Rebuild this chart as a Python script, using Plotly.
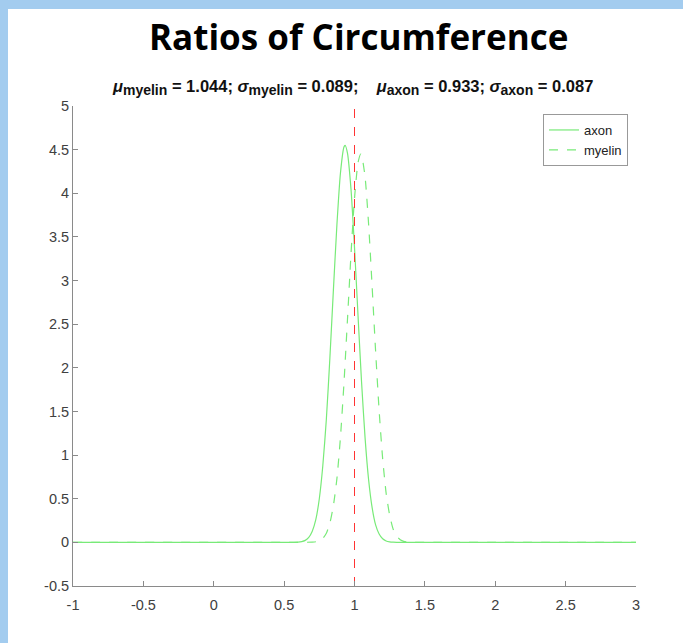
import plotly.graph_objects as go

# ---- data ----
axon_x = [-1, 0.5, 0.6, 0.625, 0.65, 0.675, 0.7, 0.725, 0.75, 0.775, 0.8, 0.825, 0.85, 0.875, 0.9, 0.925, 0.933,
          0.95, 0.975, 1.0, 1.025, 1.05, 1.075, 1.1, 1.125, 1.15, 1.175, 1.2, 1.225, 1.25, 1.275, 1.3, 1.5, 3]
axon_y = [0, 0, 0.003, 0.009, 0.023, 0.056, 0.127, 0.26, 0.50, 0.88, 1.41, 2.11, 2.89, 3.64, 4.23, 4.53, 4.55,
          4.46, 4.05, 3.38, 2.60, 1.84, 1.20, 0.72, 0.40, 0.20, 0.095, 0.041, 0.016, 0.006, 0.002, 0, 0, 0]

myelin_x = [-1, 0.6, 0.7, 0.725, 0.75, 0.775, 0.8, 0.825, 0.85, 0.875, 0.9, 0.925, 0.95, 0.975, 1.0, 1.025, 1.044,
            1.05, 1.075, 1.1, 1.125, 1.15, 1.175, 1.2, 1.225, 1.25, 1.275, 1.3, 1.325, 1.35, 1.375, 1.4, 1.6, 3]
myelin_y = [0, 0, 0.003, 0.007, 0.019, 0.046, 0.104, 0.22, 0.42, 0.73, 1.20, 1.82, 2.55, 3.30, 3.94, 4.35, 4.45,
            4.44, 4.19, 3.65, 2.94, 2.19, 1.51, 0.96, 0.56, 0.31, 0.15, 0.071, 0.031, 0.012, 0.004, 0, 0, 0]

ref_x = [1, 1]
ref_y = [-0.5, 5]

x_ticks = [-1, -0.5, 0, 0.5, 1, 1.5, 2, 2.5, 3]
x_labels = ["-1", "-0.5", "0", "0.5", "1", "1.5", "2", "2.5", "3"]
y_ticks = [-0.5, 0, 0.5, 1, 1.5, 2, 2.5, 3, 3.5, 4, 4.5, 5]
y_labels = ["-0.5", "0", "0.5", "1", "1.5", "2", "2.5", "3", "3.5", "4", "4.5", "5"]

main_title = "Ratios of Circumference"


def sub(s):
    return f"<sub><span style='font-size:14px'>{s}</span></sub>"


sub_title = (f"<i>μ</i>{sub('myelin')} = 1.044; <i>σ</i>{sub('myelin')} = 0.089;    "
             f"<i>μ</i>{sub('axon')} = 0.933; <i>σ</i>{sub('axon')} = 0.087")

GREEN = "#78ea78"
AXIS = "#8a8a8a"
TICKFONT = dict(family="Liberation Sans, Arial", size=14.5, color="#404040")

fig = go.Figure()
fig.add_trace(go.Scatter(x=axon_x, y=axon_y, mode="lines", name="axon",
                         line=dict(color=GREEN, width=1.2, shape="spline", smoothing=0.6)))
fig.add_trace(go.Scatter(x=myelin_x, y=myelin_y, mode="lines", name="myelin",
                         line=dict(color=GREEN, width=1.2, dash="dash", shape="spline", smoothing=0.6)))
fig.add_trace(go.Scatter(x=ref_x, y=ref_y, mode="lines", showlegend=False,
                         line=dict(color="#ff3333", width=1, dash="dash")))

L, R, T, B = 73, 47, 106, 57
W, H = 683, 643
pw, ph = W - L - R, H - T - B

def px(xp):
    return (xp - L) / pw

def py(yp):
    return (H - B - yp) / ph

fig.update_layout(
    width=W, height=H,
    margin=dict(l=L, r=R, t=T, b=B, pad=0),
    paper_bgcolor="#a3ccef",
    plot_bgcolor="white",
    showlegend=True,
    legend=dict(x=px(628), y=py(114), xanchor="right", yanchor="top",
                bgcolor="white", bordercolor="#999999", borderwidth=1,
                font=dict(family="Liberation Sans, Arial", size=13, color="#222222"),
                tracegroupgap=0, itemwidth=30),
    shapes=[dict(type="rect", xref="paper", yref="paper",
                 x0=px(8), x1=px(W + 5), y0=py(H + 5), y1=py(9),
                 fillcolor="white", line=dict(width=0), layer="below")],
    annotations=[
        dict(text=f"<b>{main_title}</b>", xref="paper", yref="paper", x=px(358), y=py(37),
             xanchor="center", yanchor="middle", showarrow=False,
             font=dict(family="Open Sans", size=35, color="black")),
        dict(text=f"<b>{sub_title}</b>", xref="paper", yref="paper", x=px(352), y=py(88),
             xanchor="center", yanchor="middle", showarrow=False,
             font=dict(family="Liberation Sans, Arial", size=16.5, color="#111111")),
    ],
)
fig.update_xaxes(range=[-1, 3], tickvals=x_ticks, ticktext=x_labels, showgrid=False, zeroline=False,
                 showline=True, linecolor=AXIS, linewidth=1, ticks="inside", ticklen=5, tickcolor=AXIS,
                 tickfont=TICKFONT, mirror=False, ticklabelstandoff=6)
fig.update_yaxes(range=[-0.5, 5], tickvals=y_ticks, ticktext=y_labels, showgrid=False, zeroline=False,
                 showline=True, linecolor=AXIS, linewidth=1, ticks="inside", ticklen=5, tickcolor=AXIS,
                 tickfont=TICKFONT, mirror=False)

fig.write_html("out.html", config={"displayModeBar": False},
               post_script="document.body.style.margin='0';")
